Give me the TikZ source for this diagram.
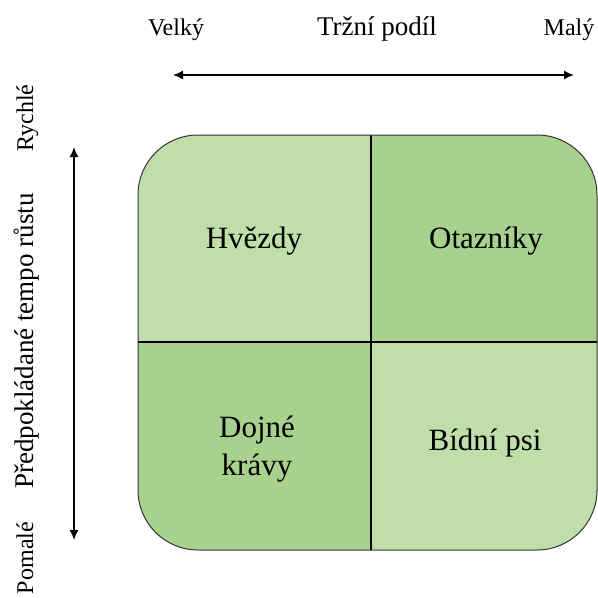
\documentclass[tikz,border=0pt]{standalone}
\usepackage{fontspec}
\setmainfont{Liberation Serif}
\usepackage{tikz}
\usetikzlibrary{arrows,arrows.meta,positioning}
\definecolor{lightgreen}{RGB}{192,222,170}
\definecolor{darkgreen}{RGB}{169,209,142}
\tikzset{axislabel/.style={font=\fontsize{24}{28}\selectfont,anchor=base},
         axistitle/.style={font=\fontsize{27}{31}\selectfont,anchor=base},
         cell/.style={font=\fontsize{31}{38}\selectfont,align=center},
         axis/.style={{Latex[length=10pt,width=9pt]}-{Latex[length=10pt,width=9pt]},line width=1.5pt}}

\begin{document}
\begin{tikzpicture}[x=1pt,y=-1pt]
            \useasboundingbox (0,0) rectangle (598,598);
            \begin{scope}
            \clip[rounded corners=60pt] (138,135) rectangle (597,550);
            \fill[lightgreen] (138,135) rectangle (371,342);
            \fill[darkgreen] (371,135) rectangle (597,342);
            \fill[darkgreen] (138,342) rectangle (371,550);
            \fill[lightgreen] (371,342) rectangle (597,550);
            \end{scope}
            \draw[black,line width=1.4pt] (371,135) -- (371,550);
            \draw[black,line width=1.4pt] (138,342) -- (597,342);
            \draw[black!80,line width=1pt,rounded corners=60pt] (138,135) rectangle (597,550);
            \node[cell] (stars) at (254,241) {Hvězdy};
            \node[cell] (question) at (486,241) {Otazníky};
            \node[cell] (cows) at (257,449) {Dojné\\krávy};
            \node[cell] (dogs) at (485,443) {Bídní psi};
            \node[axislabel] (big) at (176,35) {Velký};
            \node[axistitle] (share) at (377,35) {Tržní podíl};
            \node[axislabel] (small) at (569,35) {Malý};
            \node[axislabel,rotate=90] (fast) at (33,118) {Rychlé};
            \node[axistitle,rotate=90] (growth) at (33,341) {Předpokládané tempo růstu};
            \node[axislabel,rotate=90] (slow) at (33,558) {Pomalé};
            \coordinate (left) at (173,75);
            \coordinate (right) at (574,75);
            \coordinate (top) at (74,147);
            \coordinate (bottom) at (74,540);
            \draw[axis] (left) -- (right);
            \draw[axis] (bottom) -- (top);
\end{tikzpicture}
\end{document}
